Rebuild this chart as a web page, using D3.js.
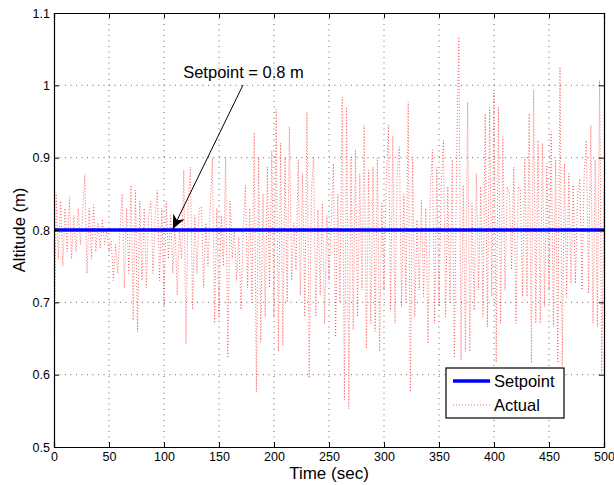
<!DOCTYPE html>
<html>
<head>
<meta charset="utf-8">
<script src="https://cdn.jsdelivr.net/npm/d3@7"></script>
<style>
  body { margin: 0; background: white; }
  svg { font-family: "Liberation Sans", Arial, Helvetica, sans-serif; }
</style>
</head>
<body>
<svg id="chart" width="614" height="485"></svg>
<script>
// values (time step 2 s, altitude in m)
let timeStep = 2
let actual = [
  0.59, 0.85, 0.76, 0.84, 0.75, 0.83, 0.77, 0.845, 0.76, 0.82,
  0.77, 0.83, 0.78, 0.82, 0.877, 0.74, 0.83, 0.76, 0.835, 0.77,
  0.81, 0.775, 0.815, 0.78, 0.80, 0.77, 0.785, 0.73, 0.78, 0.74,
  0.80, 0.85, 0.72, 0.83, 0.74, 0.862, 0.675, 0.855, 0.659, 0.84,
  0.73, 0.83, 0.72, 0.82, 0.84, 0.74, 0.82, 0.855, 0.73, 0.83,
  0.694, 0.84, 0.76, 0.82, 0.74, 0.81, 0.71, 0.80, 0.76, 0.883,
  0.643, 0.84, 0.887, 0.69, 0.82, 0.74, 0.83, 0.832, 0.72, 0.81,
  0.75, 0.83, 0.90, 0.671, 0.83, 0.68, 0.82, 0.75, 0.90, 0.623,
  0.84, 0.76, 0.80, 0.73, 0.79, 0.69, 0.80, 0.862, 0.72, 0.83,
  0.70, 0.935, 0.576, 0.90, 0.645, 0.85, 0.68, 0.887, 0.72, 0.91,
  0.68, 0.967, 0.632, 0.92, 0.64, 0.90, 0.70, 0.943, 0.73, 0.81,
  0.745, 0.897, 0.71, 0.878, 0.68, 0.963, 0.595, 0.85, 0.901, 0.68,
  0.828, 0.71, 0.837, 0.67, 0.82, 0.73, 0.81, 0.892, 0.652, 0.85,
  0.70, 0.984, 0.565, 0.97, 0.553, 0.901, 0.662, 0.911, 0.68, 0.878,
  0.717, 0.945, 0.636, 0.883, 0.671, 0.887, 0.66, 0.90, 0.632, 0.837,
  0.717, 0.86, 0.945, 0.689, 0.93, 0.671, 0.88, 0.915, 0.694, 0.85,
  0.70, 0.977, 0.576, 0.901, 0.68, 0.814, 0.717, 0.841, 0.708, 0.83,
  0.643, 0.855, 0.911, 0.671, 0.887, 0.694, 0.86, 0.924, 0.68, 0.86,
  0.70, 0.897, 0.623, 0.90, 1.067, 0.62, 0.862, 0.632, 0.977, 0.632,
  0.837, 0.689, 0.878, 0.717, 0.86, 0.68, 0.961, 0.666, 0.97, 0.708,
  0.991, 0.617, 0.97, 0.671, 0.929, 0.717, 0.86, 0.851, 0.745, 0.887,
  0.671, 0.86, 0.855, 0.708, 0.901, 0.708, 0.961, 0.616, 0.994, 0.671,
  0.924, 0.671, 0.92, 0.694, 0.892, 0.717, 0.936, 0.666, 0.897, 0.616,
  1.026, 0.612, 0.892, 0.708, 0.878, 0.726, 0.862, 0.726, 0.85, 0.871,
  0.717, 0.88, 0.924, 0.712, 0.945, 0.671, 0.897, 0.666, 1.007, 0.602,
  0.86
]
let setpoint = 0.8
let xTicks = [0, 50, 100, 150, 200, 250, 300, 350, 400, 450, 500]
let yTicks = [0.5, 0.6, 0.7, 0.8, 0.9, 1, 1.1]
let legendNames = ["Setpoint", "Actual"]

let svg = d3.select("#chart")
let pLeft = 54, pRight = 604, pTop = 13, pBottom = 447

let x = d3.scaleLinear().domain([0, 500]).range([pLeft, pRight])
let y = d3.scaleLinear().domain([0.5, 1.1]).range([pBottom, pTop])

let defs = svg.append("defs")
defs.append("clipPath")
    .attr("id", "plotclip")
    .append("rect")
    .attr("x", pLeft).attr("y", pTop)
    .attr("width", pRight - pLeft).attr("height", pBottom - pTop)

defs.append("marker")
    .attr("id", "arrowhead")
    .attr("viewBox", "0 0 10 10")
    .attr("refX", 10).attr("refY", 5)
    .attr("markerWidth", 14).attr("markerHeight", 14)
    .attr("markerUnits", "userSpaceOnUse")
    .attr("orient", "auto")
    .append("path")
    .attr("d", "M0,0.5 L10,5 L0,9.5 L3,5 Z")
    .attr("fill", "black")

// grid
let grid = svg.append("g").attr("class", "grid")
grid.selectAll("line.gx")
    .data(xTicks.slice(1, -1))
    .enter().append("line")
    .attr("class", "gx")
    .attr("x1", d => x(d)).attr("x2", d => x(d))
    .attr("y1", pTop).attr("y2", pBottom)
grid.selectAll("line.gy")
    .data(yTicks.slice(1, -1))
    .enter().append("line")
    .attr("class", "gy")
    .attr("y1", d => y(d)).attr("y2", d => y(d))
    .attr("x1", pLeft).attr("x2", pRight)
grid.selectAll("line")
    .attr("stroke", "#444")
    .attr("stroke-width", 0.8)
    .attr("stroke-dasharray", "1,4.5")

// actual signal
let line = d3.line()
    .x((d, i) => x(i * timeStep))
    .y(d => y(d))

svg.append("path")
    .datum(actual)
    .attr("clip-path", "url(#plotclip)")
    .attr("fill", "none")
    .attr("stroke", "#ff2020")
    .attr("stroke-width", 0.8)
    .attr("stroke-opacity", 0.85)
    .attr("stroke-dasharray", "1,2")
    .attr("d", line)

// setpoint
svg.append("line")
    .attr("x1", x(0)).attr("x2", x(500))
    .attr("y1", y(setpoint)).attr("y2", y(setpoint))
    .attr("stroke", "#0000ff")
    .attr("stroke-width", 3.3)

// axes, ticks pointing inward like matlab
svg.append("g")
    .attr("transform", "translate(0," + pBottom + ")")
    .call(d3.axisBottom(x).tickValues(xTicks).tickSize(-5).tickPadding(5).tickFormat(d3.format("d")))
svg.append("g")
    .attr("transform", "translate(0," + pTop + ")")
    .call(d3.axisTop(x).tickValues(xTicks).tickSize(-5).tickFormat(""))
svg.append("g")
    .attr("transform", "translate(" + pLeft + ",0)")
    .call(d3.axisLeft(y).tickValues(yTicks).tickSize(-5).tickPadding(4).tickFormat(d => String(+d.toFixed(1))))
svg.append("g")
    .attr("transform", "translate(" + pRight + ",0)")
    .call(d3.axisRight(y).tickValues(yTicks).tickSize(-5).tickFormat(""))

svg.selectAll(".domain").attr("stroke", "black").attr("stroke-width", 1.2)
svg.selectAll(".tick line").attr("stroke", "black")
svg.selectAll(".tick text")
    .attr("font-size", 12.5)
    .attr("fill", "black")
    .style("font-family", "'Liberation Sans', Arial, sans-serif")

// axis labels
svg.append("text")
    .attr("x", (pLeft + pRight) / 2)
    .attr("y", 479)
    .attr("text-anchor", "middle")
    .attr("font-size", 17)
    .text("Time (sec)")
svg.append("text")
    .attr("transform", "translate(25," + ((pTop + pBottom) / 2) + ") rotate(-90)")
    .attr("text-anchor", "middle")
    .attr("font-size", 16.5)
    .text("Altitude (m)")

// annotation
svg.append("text")
    .attr("x", 243.5)
    .attr("y", 78)
    .attr("text-anchor", "middle")
    .attr("font-size", 16.5)
    .text("Setpoint = " + setpoint + " m")
svg.append("line")
    .attr("x1", 243).attr("y1", 85)
    .attr("x2", x(108)).attr("y2", y(setpoint) - 1)
    .attr("stroke", "black")
    .attr("stroke-width", 1)
    .attr("marker-end", "url(#arrowhead)")

// legend
let legend = svg.append("g").attr("transform", "translate(446,368)")
legend.append("rect")
    .attr("width", 118).attr("height", 50)
    .attr("fill", "white")
    .attr("stroke", "black")
    .attr("stroke-width", 1.2)
legend.selectAll("text")
    .data(legendNames)
    .enter().append("text")
    .attr("x", 48)
    .attr("y", (d, i) => 19 + i * 24)
    .attr("font-size", 16.5)
    .text(d => d)
legend.append("line")
    .attr("x1", 7).attr("x2", 44)
    .attr("y1", 13).attr("y2", 13)
    .attr("stroke", "#0000ff")
    .attr("stroke-width", 3.3)
legend.append("line")
    .attr("x1", 7).attr("x2", 44)
    .attr("y1", 37).attr("y2", 37)
    .attr("stroke", "#ff2020")
    .attr("stroke-width", 0.8)
    .attr("stroke-opacity", 0.85)
    .attr("stroke-dasharray", "1,2")
</script>
</body>
</html>
